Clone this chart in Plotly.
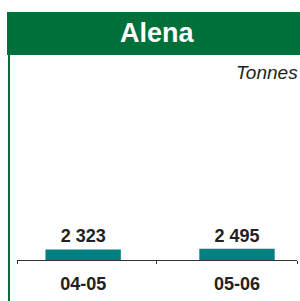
import plotly.graph_objects as go

categories = ["04-05", "05-06"]
values = [2323, 2495]
value_labels = ["2 323", "2 495"]
title_text = "Alena"
unit_text = "Tonnes"

GREEN = "#00703A"
TEAL = "#008080"
DARK = "#222222"

xpos = list(range(len(categories)))

fig = go.Figure()
fig.add_trace(go.Bar(
    x=xpos, y=values, width=0.49,
    marker=dict(color=TEAL, line=dict(width=0)),
    text=["<b>%s</b>" % t for t in value_labels],
    textposition="outside", cliponaxis=False,
    textfont=dict(family="Liberation Sans, Arial", size=18, color=DARK),
    hoverinfo="skip",
))
# invisible trace for boundary ticks
fig.add_trace(go.Scatter(x=[0], y=[0], xaxis="x2", mode="markers",
                         marker=dict(opacity=0), hoverinfo="skip", showlegend=False))

xr = [-0.43, 1.39]
fig.update_layout(
    width=300, height=301,
    margin=dict(l=17, r=3, t=60, b=41),
    paper_bgcolor="white", plot_bgcolor="white",
    showlegend=False,
    xaxis=dict(range=xr, tickvals=xpos,
               ticktext=["<b>%s</b>" % c for c in categories],
               tickfont=dict(family="Liberation Sans, Arial", size=18, color=DARK),
               showline=True, linecolor="#333333", linewidth=1,
               showgrid=False, zeroline=False, ticks="", ticklabelstandoff=7),
    xaxis2=dict(range=xr, overlaying="x", anchor="y", side="bottom",
                tickvals=[-0.43, 0.474, 1.39], ticks="outside", ticklen=3,
                tickcolor="#333333", showticklabels=False, showgrid=False,
                zeroline=False, showline=False),
    yaxis=dict(range=[0, 44000], visible=False, showgrid=False, zeroline=False),
    shapes=[
        dict(type="rect", xref="paper", yref="paper",
             x0=-0.0357, x1=1.0107, y0=1.025, y1=1.24,
             fillcolor=GREEN, line=dict(width=0), layer="above"),
        dict(type="line", xref="paper", yref="paper",
             x0=-0.0286, x1=-0.0286, y0=1.025, y1=-0.21,
             line=dict(color=GREEN, width=2)),
    ],
    annotations=[
        dict(text="<b>%s</b>" % title_text, xref="paper", yref="paper",
             x=0.5, y=1.135, showarrow=False, xanchor="center", yanchor="middle",
             font=dict(family="Liberation Sans, Arial", size=27, color="white")),
        dict(text="<i>%s</i>" % unit_text, xref="paper", yref="paper",
             x=1.009, y=0.94, showarrow=False, xanchor="right", yanchor="middle",
             font=dict(family="Liberation Sans, Arial", size=19, color=DARK)),
    ],
)
fig.write_html("out.html", config={"displayModeBar": False},
               post_script="document.body.style.margin='0';")
